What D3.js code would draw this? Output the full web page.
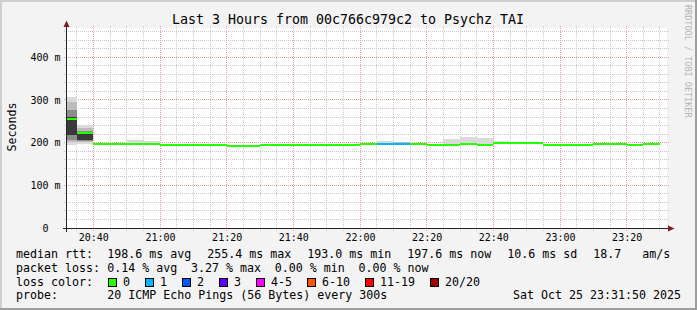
<!DOCTYPE html>
<html><head><meta charset="utf-8">
<script src="https://cdn.jsdelivr.net/npm/d3@7"></script>
<style>
html,body{margin:0;padding:0;background:#f3f3f3;}
svg{display:block;}
text{font-family:"DejaVu Sans Mono",monospace;white-space:pre;fill:#000;}
</style></head><body>
<svg id="c" width="697" height="310"></svg>
<script>
// ---------------- data ----------------
const title = "Last 3 Hours from 00c766c979c2 to Psychz TAI";
const yLabel = "Seconds";
const watermark = "RRDTOOL / TOBI OETIKER";
const startTime = "2025-10-25 20:32:06";
const endTime = "2025-10-25 23:32:06";
const stepMinutes = 5;
const stepStarts = ["20:30","20:35","20:40","20:45","20:50","20:55","21:00","21:05","21:10","21:15",
  "21:20","21:25","21:30","21:35","21:40","21:45","21:50","21:55","22:00","22:05",
  "22:10","22:15","22:20","22:25","22:30","22:35","22:40","22:45","22:50","22:55",
  "23:00","23:05","23:10","23:15","23:20","23:25"];
const medianMs = [255.4,222.6,198.0,198.0,198.0,198.0,195.0,195.0,195.0,195.0,
  193.0,193.0,195.0,195.0,195.0,195.0,195.0,195.0,196.8,196.8,
  196.8,196.8,195.0,195.0,196.8,195.0,199.5,199.5,199.5,195.0,
  195.0,195.0,196.8,196.8,195.0,197.6];
const lossCount = [0,0,0,0,0,0,0,0,0,0, 0,0,0,0,0,0,0,0,0,1, 1,0,0,0,0,0,0,0,0,0, 0,0,0,0,0,0];
// smoke bands per step, outer -> inner, [low, high] in ms
const smokeBands = [
  [[194.5,307.7],[200.5,296.0],[206.2,276.5],[217.9,260.8]],
  [[196.8,241.4],[200.8,233.6],[204.0,228.0],[206.2,224.0]],
  [],[],[[197,206]],[[197,204]],[],[],[],[],
  [],[],[],[],[],[],[],[],[],[[195,204]],
  [[195,201.5],[195,201.5]],[],[],[[194,208.6]],[[195,214]],[[194,211]],[[198,204]],[],[],[],
  [],[],[],[],[],[]
];
const smokeShades = ["#dadada","#bcbcbc","#8c8c8c","#3a3a3a"];
const yMax = 468.7;
const yTicks = [0,100,200,300,400];
const xTickLabels = ["20:40","21:00","21:20","21:40","22:00","22:20","22:40","23:00","23:20"];
const lossLegend = ["0","1","2","3","4-5","6-10","11-19","20/20"];
const lossColors = ["#26ff00","#00b8ff","#0059ff","#5e00ff","#ff00ff","#ff5500","#ff0000","#a10000"];
const lossBins = [0,1,2,3,5,10,19,20]; // upper bound of each loss class
const rttStats = ["198.6 ms avg","255.4 ms max","193.0 ms min","197.6 ms now","10.6 ms sd","18.7   am/s"];
const lossStats = ["0.14 % avg","3.27 % max","0.00 % min","0.00 % now"];
const probeText = "20 ICMP Echo Pings (56 Bytes) every 300s";
const stampText = "Sat Oct 25 23:31:50 2025";

// ---------------- chart ----------------
const W = 697, H = 310;
const L = 67, R = 667, T = 28, B = 228;
const svg = d3.select("#c");
const parseFull = d3.timeParse("%Y-%m-%d %H:%M:%S");
const parseHM = s => parseFull("2025-10-25 " + s + ":00");
const t0 = parseFull(startTime), t1 = parseFull(endTime);

const x = d3.scaleTime().domain([t0, t1]).range([L, R]);
const y = d3.scaleLinear().domain([0, yMax]).range([B, T]);

// background + frame
svg.append("rect").attr("width", W).attr("height", H).attr("fill", "#f3f3f3");
svg.append("rect").attr("x",0).attr("y",0).attr("width",W).attr("height",2).attr("fill","#cfcfcf");
svg.append("rect").attr("x",0).attr("y",0).attr("width",2).attr("height",H).attr("fill","#cfcfcf");
svg.append("rect").attr("x",W-2).attr("y",0).attr("width",2).attr("height",H).attr("fill","#9e9e9e");
svg.append("rect").attr("x",0).attr("y",H-2).attr("width",W).attr("height",2).attr("fill","#9e9e9e");
svg.append("rect").attr("x", L).attr("y", T).attr("width", R - L).attr("height", B - T).attr("fill", "#fff");

// grid
const grid = svg.append("g").attr("shape-rendering","crispEdges");
const hVals = d3.range(20, yMax, 20);
grid.selectAll("line.h").data(hVals).join("line")
  .attr("x1", 64).attr("x2", 670)
  .attr("y1", d => Math.floor(y(d)) + 0.5).attr("y2", d => Math.floor(y(d)) + 0.5)
  .attr("stroke", d => d % 100 === 0 ? "#eb9a9a" : "#c8c8c8")
  .attr("stroke-dasharray", "1,1");
const vVals = d3.timeMinute.every(5).range(t0, t1);
grid.selectAll("line.v").data(vVals).join("line")
  .attr("y1", 26).attr("y2", 231)
  .attr("x1", d => Math.floor(x(d)) + 0.5).attr("x2", d => Math.floor(x(d)) + 0.5)
  .attr("stroke", d => d.getMinutes() % 20 === 0 ? "#eb9a9a" : "#c8c8c8")
  .attr("stroke-dasharray", "1,1");

// data
const steps = stepStarts.map((s, i) => {
  const a = parseHM(s);
  return { a, b: d3.timeMinute.offset(a, stepMinutes), m: medianMs[i], loss: lossCount[i], bands: smokeBands[i] };
});
const plot = svg.append("g").attr("shape-rendering","crispEdges");
const clipX = v => Math.max(L, Math.min(R, v));
steps.forEach(s => {
  const xa = clipX(x(s.a)), xb = clipX(x(s.b));
  s.bands.forEach((bd, k) => {
    plot.append("rect").attr("x", xa).attr("width", xb - xa)
      .attr("y", y(bd[1])).attr("height", y(bd[0]) - y(bd[1]))
      .attr("fill", smokeShades[k]);
  });
});
steps.forEach(s => {
  const xa = clipX(x(s.a)), xb = clipX(x(s.b));
  const ci = lossBins.findIndex(v => s.loss <= v);
  plot.append("rect").attr("x", xa).attr("width", xb - xa)
    .attr("y", Math.round(y(s.m)) - 1).attr("height", 2)
    .attr("fill", lossColors[ci]);
});

// axes labels via d3 axes
const xAxis = d3.axisBottom(x).tickValues(xTickLabels.map(parseHM))
  .tickFormat(d3.timeFormat("%H:%M")).tickSize(0).tickPadding(6);
const gx = svg.append("g").attr("transform", `translate(0,${B})`).call(xAxis);
gx.select(".domain").remove();
gx.selectAll("text").attr("font-family", "DejaVu Sans Mono").attr("font-size", 10).attr("fill", "#000");

const yAxis = d3.axisLeft(y).tickValues(yTicks)
  .tickFormat(d => d === 0 ? "0  " : d + " m").tickSize(0).tickPadding(6.5);
const gy = svg.append("g").attr("transform", `translate(${L},0)`).call(yAxis);
gy.select(".domain").remove();
gy.selectAll("text").attr("font-family", "DejaVu Sans Mono").attr("font-size", 10).attr("fill", "#000");

// axis lines + arrows
const ax = svg.append("g").attr("shape-rendering","crispEdges");
ax.append("line").attr("x1", 63).attr("x2", 669).attr("y1", B + 0.5).attr("y2", B + 0.5).attr("stroke", "#222");
ax.append("line").attr("x1", L - 0.5).attr("x2", L - 0.5).attr("y1", 26).attr("y2", 232).attr("stroke", "#222");
svg.append("path").attr("d", `M${L-3.5},27 L${L+2.5},27 L${L-0.5},20.5 Z`).attr("fill", "#7f1d1d");
svg.append("path").attr("d", `M668,${B-2.5} L668,${B+3.5} L674.5,${B+0.5} Z`).attr("fill", "#7f1d1d");

// title & labels
svg.append("text").attr("x", 348).attr("y", 23.5).attr("text-anchor", "middle")
  .attr("font-size", 13.3).text(title);
svg.append("text").attr("transform", "translate(15.5,127) rotate(-90)").attr("text-anchor", "middle")
  .attr("font-size", 11.6).text(yLabel);
svg.append("text").attr("transform", "translate(685,5) rotate(90)")
  .attr("font-size", 8.5).style("fill", "#b4b4b4").text(watermark);

// legend
const fs = 11.63, cw = 7.0;
const lg = svg.append("g").attr("font-size", fs);
const row1 = 258.3, row2 = 272, row3 = 285.8, row4 = 299.4;
lg.append("text").attr("x", 16).attr("y", row1).text("median rtt:");
let xp = 107.3;
rttStats.forEach(s => { lg.append("text").attr("x", xp).attr("y", row1).text(s); xp += (s.length + 2) * cw + 2; });
lg.append("text").attr("x", 16).attr("y", row2).text("packet loss:");
xp = 107.3;
lossStats.forEach(s => { lg.append("text").attr("x", xp).attr("y", row2).text(s); xp += (s.length + 2) * cw - 0.3; });
lg.append("text").attr("x", 16).attr("y", row3).text("loss color:");
xp = 108.3;
lossLegend.forEach((s, i) => {
  lg.append("rect").attr("x", xp + 0.5).attr("y", row3 - 7.5).attr("width", 8).attr("height", 8)
    .attr("fill", lossColors[i]).attr("stroke", "#000").attr("stroke-width", 1).attr("shape-rendering","crispEdges");
  lg.append("text").attr("x", xp + 14.8).attr("y", row3).text(s);
  xp += 14.5 + s.length * cw + 15.5;
});
lg.append("text").attr("x", 16).attr("y", row4).text("probe:");
lg.append("text").attr("x", 107.3).attr("y", row4).text(probeText);
lg.append("text").attr("x", 681).attr("y", row4).attr("text-anchor", "end").text(stampText);
</script>
</body></html>
